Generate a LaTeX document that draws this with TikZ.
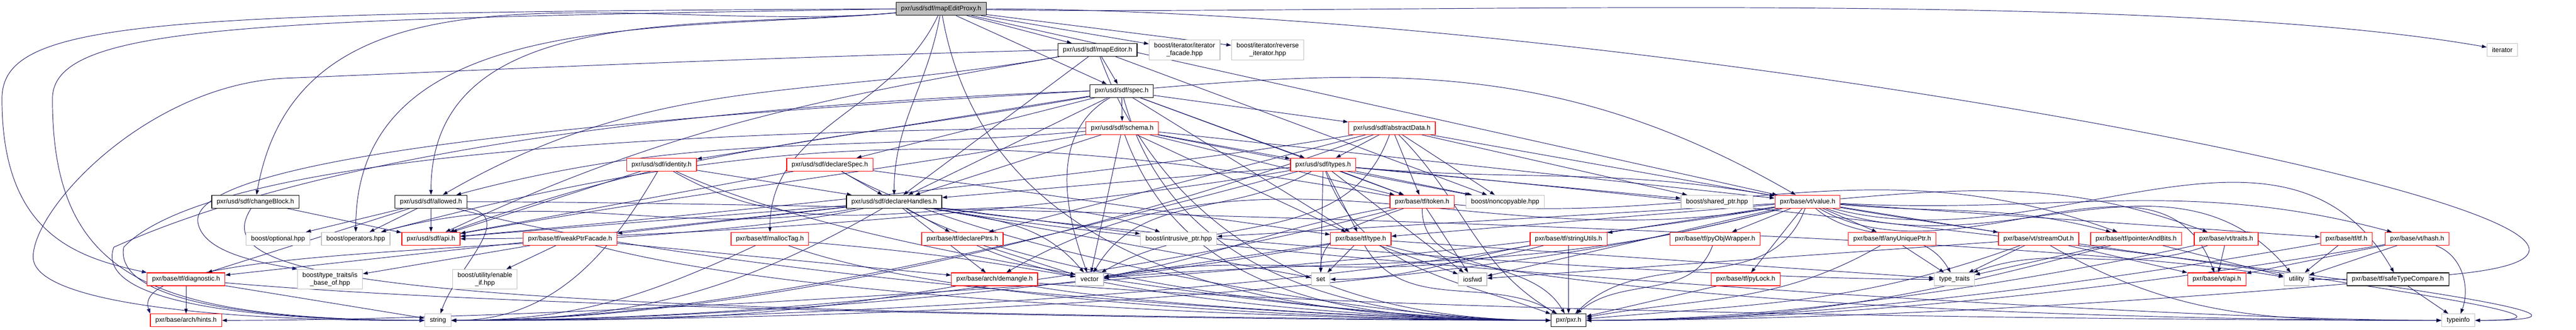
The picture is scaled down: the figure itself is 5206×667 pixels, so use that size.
\documentclass[tikz,border=0pt]{standalone}
\usepackage{fontspec}
\setmainfont{Liberation Sans}
\usetikzlibrary{arrows.meta}
\definecolor{edgeblue}{HTML}{191970}
\definecolor{grey75}{HTML}{BFBFBF}
\pgfdeclarelayer{edges}
\pgfsetlayers{edges,main}
\tikzset{
  hdr/.style={draw=black, line width=0.13pt, fill=white, align=center,
    minimum height=2.6pt, inner xsep=1pt, inner ysep=0.6pt},
  hdrred/.style={hdr, draw=red},
  hdrsys/.style={hdr, draw=grey75},
  hdrmain/.style={hdr, fill=grey75},
  dep/.style={draw=edgeblue, line width=0.1pt,
    -{Triangle[length=1pt,width=0.7pt]}},
}
\begin{document}
\begin{tikzpicture}[x=0.1pt,y=0.1pt]
        \useasboundingbox (0,0) rectangle (5206,-667);
        {\fontsize{1.333}{1.55}\selectfont

        % The documented header
        \node [hdrmain] (proxy) at (1902,-18) {pxr/usd/sdf/mapEditProxy.h};%

        % Row of mapEditor.h
        \node [hdr] (mapEditor) at (2218,-101) {pxr/usd/sdf/mapEditor.h};%
        \node [hdrsys] (itFacade) at (2394,-101) {boost/iterator/iterator\\\_facade.hpp};%
        \node [hdrsys] (revIter) at (2562,-101) {boost/iterator/reverse\\\_iterator.hpp};%
        \node [hdrsys] (iterator) at (5057,-101) {iterator};%

        % Rows of spec.h, schema.h, types.h
        \node [hdr] (spec) at (2267,-184) {pxr/usd/sdf/spec.h};%
        \node [hdrred] (schema) at (2268,-259) {pxr/usd/sdf/schema.h};%
        \node [hdrred] (absData) at (2813,-259) {pxr/usd/sdf/abstractData.h};%
        \node [hdrred] (identity) at (1337,-333) {pxr/usd/sdf/identity.h};%
        \node [hdrred] (declSpec) at (1677,-333) {pxr/usd/sdf/declareSpec.h};%
        \node [hdrred] (types) at (2674,-333) {pxr/usd/sdf/types.h};%

        % Row of allowed.h
        \node [hdr] (changeBlock) at (516,-408) {pxr/usd/sdf/changeBlock.h};%
        \node [hdr] (allowed) at (871,-408) {pxr/usd/sdf/allowed.h};%
        \node [hdr] (declHandles) at (1807,-408) {pxr/usd/sdf/declareHandles.h};%
        \node [hdrred] (token) at (2874,-408) {pxr/base/tf/token.h};%
        \node [hdrsys] (noncopyable) at (3042,-408) {boost/noncopyable.hpp};%
        \node [hdrsys] (sharedPtr) at (3470,-408) {boost/shared\_ptr.hpp};%
        \node [hdrred] (value) at (3653,-408) {pxr/base/vt/value.h};%

        % Row of api.h
        \node [hdrsys] (optional) at (562,-483) {boost/optional.hpp};%
        \node [hdrsys] (operators) at (719,-483) {boost/operators.hpp};%
        \node [hdrred] (sdfApi) at (871,-483) {pxr/usd/sdf/api.h};%
        \node [hdrred] (weakPtr) at (1152,-483) {pxr/base/tf/weakPtrFacade.h};%
        \node [hdrred] (mallocTag) at (1556,-483) {pxr/base/tf/mallocTag.h};%
        \node [hdrred] (declPtrs) at (1945,-483) {pxr/base/tf/declarePtrs.h};%
        \node [hdrsys] (intrusive) at (2382,-483) {boost/intrusive\_ptr.hpp};%
        \node [hdrred] (tfType) at (2750,-483) {pxr/base/tf/type.h};%
        \node [hdrred] (strUtils) at (3170,-483) {pxr/base/tf/stringUtils.h};%
        \node [hdrred] (pyObj) at (3466,-483) {pxr/base/tf/pyObjWrapper.h};%
        \node [hdrred] (anyUniq) at (3824,-483) {pxr/base/tf/anyUniquePtr.h};%
        \node [hdrred] (streamOut) at (4120,-483) {pxr/base/vt/streamOut.h};%
        \node [hdrred] (ptrBits) at (4317,-483) {pxr/base/tf/pointerAndBits.h};%
        \node [hdrred] (vtTraits) at (4499,-483) {pxr/base/vt/traits.h};%
        \node [hdrred] (tfTf) at (4742,-483) {pxr/base/tf/tf.h};%
        \node [hdrred] (vtHash) at (4885,-483) {pxr/base/vt/hash.h};%

        % Row of diagnostic.h
        \node [hdrred] (diagnostic) at (376,-565) {pxr/base/tf/diagnostic.h};%
        \node [hdrsys] (isBase) at (667,-565) {boost/type\_traits/is\\\_base\_of.hpp};%
        \node [hdrsys] (enableIf) at (980,-565) {boost/utility/enable\\\_if.hpp};%
        \node [hdrred] (demangle) at (2010,-565) {pxr/base/arch/demangle.h};%
        \node [hdrsys] (vector) at (2202,-565) {vector};%
        \node [hdrsys] (set) at (2669,-565) {set};%
        \node [hdrsys] (iosfwd) at (2976,-565) {iosfwd};%
        \node [hdrred] (pyLock) at (3528,-565) {pxr/base/tf/pyLock.h};%
        \node [hdrsys] (typeTraits) at (3950,-565) {type\_traits};%
        \node [hdrred] (vtApi) at (4480,-565) {pxr/base/vt/api.h};%
        \node [hdrsys] (utility) at (4641,-565) {utility};%
        \node [hdr] (safeCmp) at (4846,-565) {pxr/base/tf/safeTypeCompare.h};%

        % Bottom row
        \node [hdrred] (hints) at (376,-648) {pxr/base/arch/hints.h};%
        \node [hdrsys] (string) at (885,-648) {string};%
        \node [hdr] (pxr) at (3170,-648) {pxr/pxr.h};%
        \node [hdrsys] (typeinfo) at (4968,-648) {typeinfo};%
        }

        \begin{pgfonlayer}{edges}
        % Includes of mapEditProxy.h
        \draw [dep] (proxy) edge (mapEditor) edge (itFacade) edge (revIter)
          edge [out=-1, in=170, looseness=0.6] (iterator) edge (spec)
          edge [out=185, in=80] (changeBlock) edge [out=185, in=90] (allowed)
          edge [out=185, in=90] (operators)
          edge [out=-115, in=90] (mallocTag) edge [out=-100, in=90] (declHandles)
          edge (value) edge [out=0, in=0, looseness=1.4] (utility)
          edge [out=-80, in=180] (pxr);%
        % long ones round the left side
        \draw [dep] (proxy.west) .. controls (300,-25) and (4,-40) .. (4,-200)
          .. controls (4,-470) and (150,-520) .. (diagnostic.north west);%
        \draw [dep] (proxy.west) .. controls (500,-40) and (106,-50) .. (106,-200)
          .. controls (106,-560) and (300,-645) .. (string.west);%

        % Includes of mapEditor.h
        \draw [dep] (mapEditor) edge (spec) edge [out=190, in=30] (allowed)
          edge (declHandles) edge [out=190, in=25] (sdfApi) edge (noncopyable)
          edge [out=-70, in=180] (pxr);%
        \draw [dep] (mapEditor.west) .. controls (1400,-120) and (800,-150) .. (580,-158)
          .. controls (300,-170) and (67,-420) .. (67,-520)
          .. controls (67,-620) and (500,-650) .. (string.west);%

        % Includes of spec.h
        \draw [dep] (spec) edge (schema) edge (absData) edge (types) edge (declSpec)
          edge (identity) edge (declHandles) edge [out=190, in=20] (sdfApi)
          edge [out=5, in=150] (value) edge (token) edge (tfType)
          edge [out=-150, in=110] (vector) edge [out=-75, in=180] (pxr);%
        \draw [dep] (spec.west) .. controls (1500,-210) and (700,-290) .. (230,-500)
          .. controls (190,-610) and (500,-648) .. (string.west);%
        \draw [dep] (spec.west) .. controls (1200,-240) and (380,-320) .. (400,-450)
          .. controls (410,-510) and (520,-530) .. (isBase.north west);%

        % Includes of schema.h
        \draw [dep] (schema) edge [out=185, in=15] (allowed) edge (declHandles)
          edge (types) edge [out=190, in=10] (sdfApi) edge (token) edge (tfType)
          edge (value) edge (noncopyable) edge (vector)
          edge [out=-70, in=180] (pxr);%
        \draw [dep] (schema.west) .. controls (1300,-265) and (420,-320) .. (250,-500)
          .. controls (230,-610) and (520,-648) .. (string.west);%

        % Includes of abstractData.h
        \draw [dep] (absData) edge (types)
          edge [out=190, in=5, looseness=0.6] (sdfApi) edge (token) edge (declPtrs)
          edge (value) edge (noncopyable) edge (sharedPtr)
          edge [out=-110, in=30] (vector)
          edge [out=-160, in=0, looseness=0.8] (string)
          edge [out=-45, in=150] (pxr);%

        % Includes of types.h
        \draw [dep] (types) edge (declHandles)
          edge [out=190, in=0, looseness=0.7] (sdfApi) edge (token) edge (tfType)
          edge [out=-5, in=170] (value) edge (noncopyable) edge (sharedPtr)
          edge (iosfwd) edge (set)
          edge [out=-165, in=0, looseness=0.8] (string)
          edge [out=-5, in=0, looseness=0.7] (typeinfo)
          edge [out=-150, in=60] (vector) edge [out=-70, in=160] (pxr);%

        % Includes of identity.h and declareSpec.h
        \draw [dep] (identity) edge (declHandles) edge (sdfApi)
          edge [out=-30, in=160] (intrusive)
          edge [out=-120, in=0] (string)
          edge [out=-25, in=180, looseness=0.6] (pxr);%
        \draw [dep] (declSpec) edge (declHandles) edge (tfType) edge (sdfApi)
          edge [out=-30, in=180, looseness=0.6] (pxr);%

        % Includes of declareHandles.h
        \draw [dep] (declHandles) edge (sdfApi) edge (diagnostic) edge (weakPtr)
          edge (declPtrs) edge (demangle)
          edge (intrusive) edge [out=190, in=15] (operators) edge (set)
          edge [out=-10, in=180, looseness=0.5] (typeinfo)
          edge [out=-8, in=180, looseness=0.6] (typeTraits)
          edge [out=-10, in=130] (vector)
          edge [out=-150, in=0] (string)
          edge [out=-30, in=180, looseness=0.6] (pxr);%
        \draw [dep] (declHandles) .. controls (1300,-520) and (250,-480) .. (hints.north west);%

        % Includes of changeBlock.h and allowed.h
        \draw [dep] (changeBlock) edge (sdfApi);%
        \draw [dep] (changeBlock) .. controls (420,-560) and (700,-632) .. (pxr.west);%
        \draw [dep] (allowed) edge (sdfApi) edge (diagnostic) edge (operators)
          edge (optional) edge [out=-10, in=70, looseness=1.2] (string)
          edge [out=0, in=170, looseness=0.4] (utility)
          edge [out=-15, in=180, looseness=0.6] (pxr);%

        % Includes of weakPtrFacade.h, mallocTag.h, declarePtrs.h
        \draw [dep] (weakPtr) edge (isBase) edge (enableIf) edge (demangle)
          edge [out=-15, in=180, looseness=0.6] (pxr);%
        \draw [dep] (mallocTag) edge [out=-155, in=0] (string)
          edge [out=-5, in=170] (vector)
          edge [out=-20, in=180, looseness=0.6] (pxr);%
        \draw [dep] (declPtrs) edge (vector)
          edge [out=-25, in=180, looseness=0.6] (pxr);%

        % Includes of demangle.h and diagnostic.h
        \draw [dep] (demangle) edge [out=-170, in=0] (string)
          edge [out=-5, in=180, looseness=0.6] (typeinfo)
          edge [out=-10, in=180, looseness=0.6] (pxr);%
        \draw [dep] (diagnostic) edge (hints) edge (string)
          edge [out=-5, in=180, looseness=0.6] (pxr);%

        % Includes of token.h and type.h
        \draw [dep] (token) edge [out=170, in=15] (operators)
          edge [out=200, in=90] (set) edge (iosfwd)
          edge [out=-165, in=0, looseness=0.8] (string)
          edge [out=190, in=10] (vector)
          edge [out=-5, in=160] (ptrBits)
          edge [out=-90, in=120] (pxr);%
        \draw [dep] (tfType) edge (iosfwd) edge (set)
          edge [out=-170, in=0, looseness=0.8] (string)
          edge [out=-15, in=180, looseness=0.6] (typeinfo)
          edge (typeTraits) edge (vector)
          edge [out=-60, in=150] (pxr);%

        % Includes of value.h
        \draw [dep] (value) edge (anyUniq) edge [out=-5, in=165] (ptrBits)
          edge (pyLock) edge (pyObj) edge [out=-15, in=120] (safeCmp)
          edge (strUtils) edge (tfTf) edge (tfType)
          edge [out=-30, in=110] (vtApi) edge [out=-3, in=165] (vtHash)
          edge (streamOut) edge [out=5, in=160] (vtTraits) edge (intrusive)
          edge [out=190, in=30] (demangle)
          edge [out=-170, in=0, looseness=0.6] (hints) edge (iosfwd)
          edge [out=-10, in=0, looseness=0.8] (typeinfo)
          edge [out=-40, in=120] (typeTraits) edge [out=-20, in=130] (utility)
          edge [out=-165, in=0, looseness=0.7] (string)
          edge [out=-165, in=5] (vector)
          edge [out=-110, in=45] (pxr);%

        % Includes of the tf and vt headers
        \draw [dep] (strUtils) edge (pxr)
          edge [out=-170, in=0, looseness=0.7] (string)
          edge [out=-165, in=10] (vector) edge [out=-170, in=0] (set);%
        \draw [dep] (pyObj) edge [out=-110, in=40] (pxr);%
        \draw [dep] (pyLock) edge (pxr);%
        \draw [dep] (anyUniq) edge (typeTraits) edge [out=-150, in=10] (pxr);%
        \draw [dep] (streamOut) edge (vtApi) edge [out=-30, in=180] (typeinfo)
          edge (iosfwd) edge (typeTraits) edge [out=-160, in=5] (pxr);%
        \draw [dep] (ptrBits) edge (utility) edge (typeTraits)
          edge [out=-165, in=0] (pxr);%
        \draw [dep] (vtTraits) edge (vtApi) edge [out=-160, in=20] (typeTraits)
          edge [out=-168, in=0, looseness=0.8] (pxr);%
        \draw [dep] (tfTf) edge (utility)
          edge [out=-170, in=0, looseness=0.8] (pxr);%
        \draw [dep] (vtHash) edge (vtApi) edge (utility)
          edge [out=-20, in=70] (typeinfo)
          edge [out=-170, in=0, looseness=0.8] (pxr);%
        \draw [dep] (safeCmp) edge (typeinfo)
          edge [out=-175, in=0, looseness=0.8] (pxr);%
        \end{pgfonlayer}
\end{tikzpicture}
\end{document}
